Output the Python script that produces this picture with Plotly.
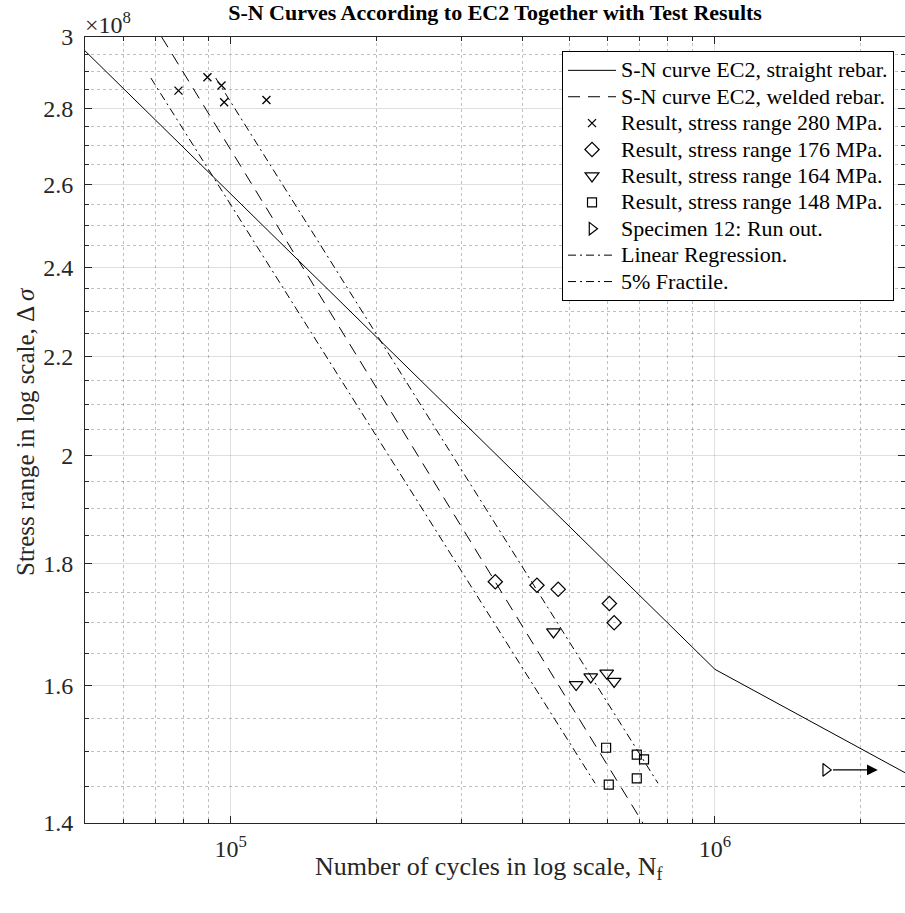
import numpy as np
import plotly.graph_objects as go

# ---- data ----
straight_N = [5.0e4, 1.0e6, 2.5e6]
straight_S = [2.96e8, 1.625e8, 1.468e8]

welded_N = [7.2e4, 7.1e5]
welded_S = [3.0e8, 1.4e8]

r280_N = [78000, 89500, 95700, 96900, 118500]
r280_S = [2.848e8, 2.885e8, 2.862e8, 2.816e8, 2.822e8]

r176_N = [351900, 429000, 474600, 605400, 619300]
r176_S = [1.769e8, 1.763e8, 1.756e8, 1.732e8, 1.700e8]

r164_N = [464100, 516900, 554100, 597700, 619300]
r164_S = [1.685e8, 1.601e8, 1.613e8, 1.619e8, 1.606e8]

r148_N = [596100, 689700, 713900, 689700, 603700]
r148_S = [1.506e8, 1.496e8, 1.489e8, 1.462e8, 1.453e8]

runout_N = [1.694e6]
runout_S = [1.474e8]
runout_arrow_end_N = 2.17e6

regr_N = [93100, 763000]
regr_S = [2.883e8, 1.455e8]

frac_N = [68400, 565700]
frac_S = [2.883e8, 1.455e8]

y_ticks = [1.4e8, 1.6e8, 1.8e8, 2.0e8, 2.2e8, 2.4e8, 2.6e8, 2.8e8, 3.0e8]
y_ticktext = ["1.4", "1.6", "1.8", "2", "2.2", "2.4", "2.6", "2.8", "3"]
y_minor = [v * 1e6 for v in range(140, 301, 5) if v % 20 != 0]
x_ticks = [1e5, 1e6]
x_ticktext = ["10<sup>5</sup>", "10<sup>6</sup>"]
x_minor = [6e4, 7e4, 8e4, 9e4, 2e5, 3e5, 4e5, 5e5, 6e5, 7e5, 8e5, 9e5, 2e6]

FONT = "Liberation Serif"
AX = "#262626"


def lg(name):
    return '<span style="font-size:22px">' + name + '</span>'


fig = go.Figure()
fig.add_trace(go.Scatter(x=straight_N, y=straight_S, mode="lines",
                         line=dict(color="black", width=1),
                         name=lg("S-N curve EC2, straight rebar.")))
fig.add_trace(go.Scatter(x=welded_N, y=welded_S, mode="lines",
                         line=dict(color="black", width=1, dash="12px,8px"),
                         name=lg("S-N curve EC2, welded rebar.")))
fig.add_trace(go.Scatter(x=r280_N, y=r280_S, mode="markers",
                         marker=dict(symbol="x-thin-open", size=8, color="black",
                                     line=dict(color="black", width=1.3)),
                         name=lg("Result, stress range 280 MPa.")))
fig.add_trace(go.Scatter(x=r176_N, y=r176_S, mode="markers",
                         marker=dict(symbol="diamond-open", size=11, color="black",
                                     line=dict(color="black", width=1.2)),
                         name=lg("Result, stress range 176 MPa.")))
fig.add_trace(go.Scatter(x=r164_N, y=r164_S, mode="markers",
                         marker=dict(symbol="triangle-down-open", size=12, color="black",
                                     line=dict(color="black", width=1.2)),
                         name=lg("Result, stress range 164 MPa.")))
fig.add_trace(go.Scatter(x=r148_N, y=r148_S, mode="markers",
                         marker=dict(symbol="square-open", size=9, color="black",
                                     line=dict(color="black", width=1.2)),
                         name=lg("Result, stress range 148 MPa.")))
fig.add_trace(go.Scatter(x=runout_N, y=runout_S, mode="markers",
                         marker=dict(symbol="triangle-right-open", size=11, color="black",
                                     line=dict(color="black", width=1.2)),
                         name=lg("Specimen 12: Run out.")))
fig.add_trace(go.Scatter(x=regr_N, y=regr_S, mode="lines",
                         line=dict(color="black", width=1, dash="8px,4px,2px,4px"),
                         name=lg("Linear Regression.")))
fig.add_trace(go.Scatter(x=frac_N, y=frac_S, mode="lines",
                         line=dict(color="black", width=1, dash="8px,4px,2px,4px"),
                         name=lg("5% Fractile.")))

# run-out arrow
fig.add_annotation(x=np.log10(runout_arrow_end_N), y=np.log10(runout_S[0]),
                   ax=np.log10(runout_N[0]) + 0.012, ay=np.log10(runout_S[0]),
                   xref="x", yref="y", axref="x", ayref="y",
                   showarrow=True, arrowhead=2, arrowsize=1.8, arrowwidth=1.2,
                   arrowcolor="black", text="")

# x10^8 label
fig.add_annotation(x=0, y=1.0, xref="paper", yref="paper", xanchor="left", yanchor="bottom",
                   text="×10<sup>8</sup>", showarrow=False,
                   font=dict(family=FONT, size=24, color=AX), yshift=-3, xshift=-2)

# axis titles
fig.add_annotation(x=0.4927, y=-0.0573, xref="paper", yref="paper",
                   xanchor="center", yanchor="middle", showarrow=False,
                   text="Number of cycles in log scale, N<sub>f</sub>",
                   font=dict(family=FONT, size=26, color=AX))
fig.add_annotation(x=-0.0732, y=0.4987, xref="paper", yref="paper",
                   xanchor="center", yanchor="middle", showarrow=False, textangle=-90,
                   text="Stress range in log scale, Δ <i>σ</i>",
                   font=dict(family=FONT, size=25, color=AX))

grid_major = "rgba(0,0,0,0.12)"
grid_minor = "rgba(0,0,0,0.25)"

fig.update_layout(
    width=905, height=913,
    margin=dict(l=85, r=0, t=37, b=90),
    paper_bgcolor="white", plot_bgcolor="white",
    font=dict(family=FONT, size=24, color=AX),
    title=dict(text="<b>S-N Curves According to EC2 Together with Test Results</b>",
               x=0.547, xanchor="center", y=0.987, yanchor="middle",
               font=dict(family=FONT, size=22, color="black")),
    legend=dict(x=0.9866, y=0.982, xanchor="right", yanchor="top",
                bgcolor="white", bordercolor="black", borderwidth=1,
                font=dict(family=FONT, size=18, color="black"),
                tracegroupgap=0, itemwidth=48),
    showlegend=True,
)

fig.update_xaxes(
    type="log", range=[np.log10(5e4), np.log10(2.47e6)],
    tickmode="array", tickvals=x_ticks, ticktext=x_ticktext,
    ticks="inside", ticklen=7, tickcolor=AX, ticklabelstandoff=4,
    showline=True, linecolor=AX, linewidth=1, mirror="ticks",
    showgrid=True, gridcolor=grid_major, gridwidth=1,
    zeroline=False, automargin=False,
    tickfont=dict(family=FONT, size=24, color=AX),
    minor=dict(tickmode="array", tickvals=x_minor, ticks="inside", ticklen=4,
               tickcolor=AX, showgrid=True, gridcolor=grid_minor,
               griddash="dot", gridwidth=1),
)
fig.update_yaxes(
    type="log", range=[np.log10(1.4e8), np.log10(3.0e8)],
    tickmode="array", tickvals=y_ticks, ticktext=y_ticktext,
    ticks="inside", ticklen=7, tickcolor=AX, ticklabelstandoff=6,
    showline=True, linecolor=AX, linewidth=1, mirror="ticks",
    showgrid=True, gridcolor=grid_major, gridwidth=1,
    zeroline=False, automargin=False,
    tickfont=dict(family=FONT, size=24, color=AX),
    minor=dict(tickmode="array", tickvals=y_minor, ticks="inside", ticklen=4,
               tickcolor=AX, showgrid=True, gridcolor=grid_minor,
               griddash="dot", gridwidth=1),
)

fig.write_html("out.html", config={"displayModeBar": False},
               post_script="document.body.style.margin='0';")
